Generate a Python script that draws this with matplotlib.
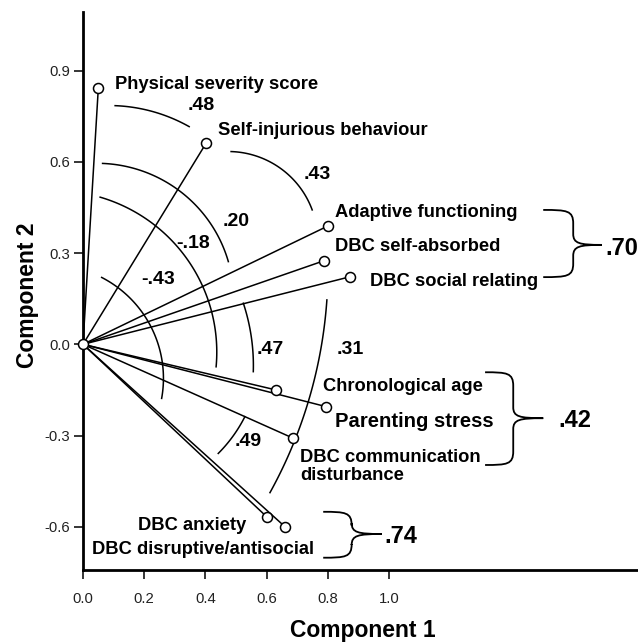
import numpy as np
import matplotlib
matplotlib.use("Agg")
import matplotlib.pyplot as plt
from matplotlib.path import Path
from matplotlib.patches import PathPatch

plt.rcParams['font.family'] = ['Liberation Sans', 'DejaVu Sans']

# Variable loadings on the first two principal components
variables = [
    "Physical severity score",
    "Self-injurious behaviour",
    "Adaptive functioning",
    "DBC self-absorbed",
    "DBC social relating",
    "Chronological age",
    "Parenting stress",
    "DBC communication\ndisturbance",
    "DBC anxiety",
    "DBC disruptive/antisocial",
]
comp1 = [0.05, 0.402, 0.800, 0.788, 0.872, 0.630, 0.794, 0.687, 0.600, 0.660]
comp2 = [0.842, 0.661, 0.389, 0.275, 0.222, -0.150, -0.205, -0.309, -0.567, -0.600]

# Correlations annotated on arcs between vector groups
arc_values = [".48", ".43", ".20", "-.18", "-.43", ".47", ".31", ".49"]
# Correlations for bracketed clusters
group_values = [".70", ".42", ".74"]

x_ticks = [0.0, 0.2, 0.4, 0.6, 0.8, 1.0]
y_ticks = [-0.6, -0.3, 0.0, 0.3, 0.6, 0.9]

# ---- layout ----
label_pos = [  # (x, y, ha, fontsize)
    (0.105, 0.856, "left", 13.2),
    (0.442, 0.703, "left", 13.2),
    (0.824, 0.434, "left", 13.2),
    (0.824, 0.322, "left", 13.2),
    (0.938, 0.207, "left", 13.2),
    (0.785, -0.139, "left", 13.2),
    (0.824, -0.255, "left", 14.6),
    (0.709, -0.402, "left", 13.2),
    (0.356, -0.597, "center", 13.2),
    (0.391, -0.674, "center", 13.2),
]

# three points (start, through, end) defining each arc
arc_pts = [
    [(0.105, 0.785), (0.230, 0.765), (0.347, 0.716)],
    [(0.484, 0.634), (0.666, 0.5625), (0.749, 0.442)],
    [(0.064, 0.595), (0.339, 0.4855), (0.475, 0.272)],
    [(0.056, 0.484), (0.350, 0.266), (0.435, -0.074)],
    [(0.061, 0.220), (0.241, 0.014), (0.257, -0.178)],
    [(0.524, 0.135), (0.549, 0.031), (0.5565, -0.090)],
    [(0.797, 0.146), (0.753, -0.128), (0.611, -0.488)],
    [(0.529, -0.238), (0.491, -0.301), (0.442, -0.359)],
]
arc_label_pos = [
    (0.388, 0.786), (0.764, 0.558), (0.499, 0.404), (0.361, 0.330),
    (0.246, 0.214), (0.611, -0.016), (0.875, -0.016), (0.540, -0.321),
]

# braces: (x_start, x_vertical, x_tip, y_top, y_mid, y_bottom)
braces = [
    (1.504, 1.602, 1.695, 0.442, 0.327, 0.221),
    (1.314, 1.406, 1.504, -0.092, -0.243, -0.397),
    (0.785, 0.878, 0.976, -0.551, -0.624, -0.702),
]
brace_label_pos = [(1.708, 0.314), (1.553, -0.251), (0.986, -0.632)]

W, H = 638, 643
fig = plt.figure(figsize=(W / 100, H / 100), dpi=100)
ax = fig.add_axes([83 / W, (H - 570) / H, 1 - 83 / W, (570 - 12) / H])
ax.set_xlim(0, (W - 83) / 306)
ax.set_ylim((344.3 - 570) / 304, (344.3 - 12) / 304)

for s in ("top", "right"):
    ax.spines[s].set_visible(False)
for s in ("left", "bottom"):
    ax.spines[s].set_linewidth(2.0)

ax.set_xticks(x_ticks)
ax.set_xticklabels([f"{v:.1f}" for v in x_ticks])
ax.set_yticks(y_ticks)
ax.set_yticklabels([f"{v:.1f}" for v in y_ticks])
ax.tick_params(axis="both", direction="out", length=6.5, width=1.1,
               labelsize=10.7, labelcolor="#222222")
ax.tick_params(axis="x", pad=9)
ax.tick_params(axis="y", pad=3)

# vectors from the origin
for x, y in zip(comp1, comp2):
    ax.plot([0, x], [0, y], color="black", lw=1.1, solid_capstyle="butt", zorder=2)
ax.plot(comp1, comp2, "o", ms=7.2, mfc="white", mec="black", mew=1.1,
        zorder=4, linestyle="none")
ax.plot([0], [0], "o", ms=7.2, mfc="white", mec="black", mew=1.1,
        zorder=4, clip_on=False)

for name, (lx, ly, ha, fs) in zip(variables, label_pos):
    ax.text(lx, ly, name, ha=ha, va="center", fontsize=fs,
            fontweight="bold", linespacing=1.15, zorder=5)


def circle_arc(p1, p2, p3, n=80):
    (x1, y1), (x2, y2), (x3, y3) = p1, p2, p3
    d = 2 * (x1 * (y2 - y3) + x2 * (y3 - y1) + x3 * (y1 - y2))
    ux = ((x1**2 + y1**2) * (y2 - y3) + (x2**2 + y2**2) * (y3 - y1)
          + (x3**2 + y3**2) * (y1 - y2)) / d
    uy = ((x1**2 + y1**2) * (x3 - x2) + (x2**2 + y2**2) * (x1 - x3)
          + (x3**2 + y3**2) * (x2 - x1)) / d
    r = np.hypot(x1 - ux, y1 - uy)
    a1 = np.arctan2(y1 - uy, x1 - ux)
    a2 = np.arctan2(y2 - uy, x2 - ux)
    a3 = np.arctan2(y3 - uy, x3 - ux)

    def norm(a):
        return (a - a1) % (2 * np.pi)
    # sweep in the direction that passes through the middle point
    if norm(a2) < norm(a3):
        t = np.linspace(a1, a1 + norm(a3), n)
    else:
        t = np.linspace(a1, a1 - (2 * np.pi - norm(a3)), n)
    return ux + r * np.cos(t), uy + r * np.sin(t)


for pts, val, (tx, ty) in zip(arc_pts, arc_values, arc_label_pos):
    xs, ys = circle_arc(*pts)
    ax.plot(xs, ys, color="black", lw=1.1, zorder=3)
    ax.text(tx, ty, val, ha="center", va="center", fontsize=14,
            fontweight="bold", zorder=5)


def brace_path(x0, xv, xt, yt, ym, yb):
    k = 0.045
    verts = [
        (x0, yt),
        (xv - 0.02, yt), (xv, yt - 0.002), (xv, yt - k),
        (xv, ym + k * 0.8),
        (xv, ym + 0.005), (xv + 0.02, ym), (xt, ym),
        (xv + 0.02, ym), (xv, ym - 0.005), (xv, ym - k * 0.8),
        (xv, yb + k),
        (xv, yb + 0.002), (xv - 0.02, yb), (x0, yb),
    ]
    codes = [Path.MOVETO,
             Path.CURVE4, Path.CURVE4, Path.CURVE4,
             Path.LINETO,
             Path.CURVE4, Path.CURVE4, Path.CURVE4,
             Path.CURVE4, Path.CURVE4, Path.CURVE4,
             Path.LINETO,
             Path.CURVE4, Path.CURVE4, Path.CURVE4]
    return Path(verts, codes)


for b, val, (tx, ty) in zip(braces, group_values, brace_label_pos):
    ax.add_patch(PathPatch(brace_path(*b), fill=False, lw=1.3,
                           edgecolor="black", clip_on=False))
    ax.text(tx, ty, val, ha="left", va="center", fontsize=17,
            fontweight="bold", clip_on=False)

fig.text(362.5 / W, 1 - 630 / H, "Component 1", ha="center", va="center",
         fontsize=16.5, fontweight="bold")
fig.text(28 / W, 1 - 295 / H, "Component 2", ha="center", va="center",
         rotation=90, fontsize=16.5, fontweight="bold")

fig.savefig("out.png", dpi=100)
